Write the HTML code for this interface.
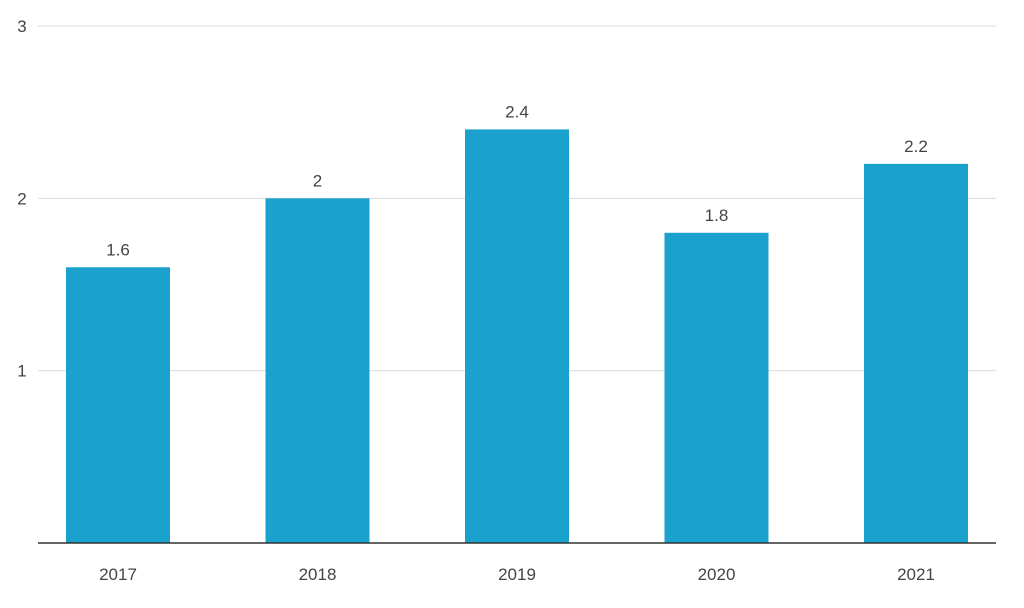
<!DOCTYPE html>
<html><head><meta charset="utf-8"><style>
body{margin:0;background:#fff;width:1024px;height:603px;overflow:hidden}
svg text{font-family:"Liberation Sans",sans-serif;fill:#444}
</style></head><body>
<svg id="chart" width="1024" height="603" xmlns="http://www.w3.org/2000/svg"></svg>
<script>
const categories=["2017","2018","2019","2020","2021"];
const values=[1.6,2,2.4,1.8,2.2];
const yTicks=[0,1,2,3];
const yTickLabels=["","1","2","3"];
const svg=document.getElementById('chart');
const NS="http://www.w3.org/2000/svg";
const y0=543,yTop=26,yMax=3;
function yScale(v){return y0-(v/yMax)*(y0-yTop);}
function xCenter(i){return 118+i*199.5;}
const barW=104;
function mk(tag,attrs,parent){const e=document.createElementNS(NS,tag);for(const k in attrs)e.setAttribute(k,attrs[k]);(parent||svg).appendChild(e);return e;}
yTicks.forEach((t,i)=>{
  if(t>0){const g=mk('line',{x1:38,x2:996,y1:yScale(t),y2:yScale(t),stroke:'#dcdcdc','stroke-width':1});
  
  }
  if(yTickLabels[i]){const tx=mk('text',{x:22,y:yScale(t)+6,'font-size':17,'text-anchor':'middle'});tx.textContent=yTickLabels[i];
  
  }
});
categories.forEach((c,i)=>{
  const cx=xCenter(i);
  const r=mk('rect',{x:cx-barW/2,y:yScale(values[i]),width:barW,height:y0-yScale(values[i]),fill:'#1ba1cd'});
  
  
  const v=mk('text',{x:cx,y:yScale(values[i])-12,'font-size':17,'text-anchor':'middle'});v.textContent=String(values[i]);
  
  
  const l=mk('text',{x:cx,y:580,'font-size':17,'text-anchor':'middle'});l.textContent=c;
  
  
});
const ax=mk('line',{x1:38,x2:996,y1:y0,y2:y0,stroke:'#333','stroke-width':1.5});


</script>
</body></html>
